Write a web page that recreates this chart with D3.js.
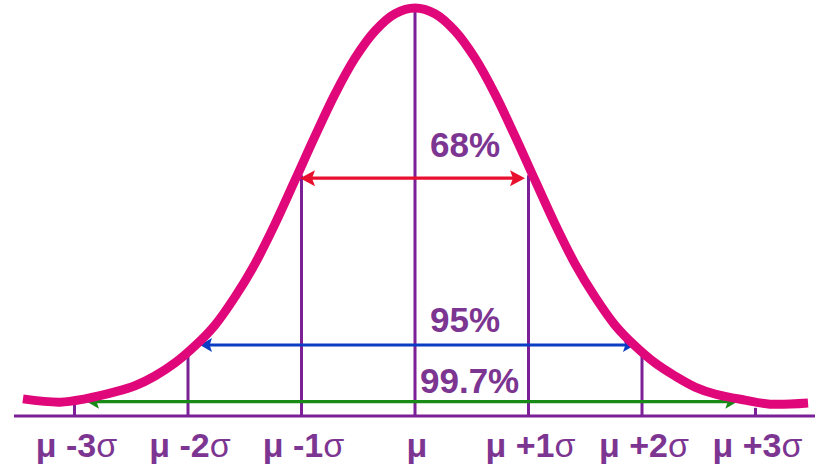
<!DOCTYPE html>
<html>
<head>
<meta charset="utf-8">
<script src="https://cdn.jsdelivr.net/npm/d3@7"></script>
<style>
  html, body { margin: 0; padding: 0; background: #ffffff; }
  svg { display: block; }
</style>
</head>
<body>
<script>
// ---- data (x in sigma units from the mean, y as fraction of peak height) ----
const curveZ = [-3.454, -3.128, -2.907, -2.643, -2.467, -2.291, -2.115, -1.938, -1.762, -1.586,
                -1.410, -1.233, -1.057, -0.881, -0.705, -0.529, -0.352, -0.176, 0,
                 0.176, 0.352, 0.529, 0.705, 0.881, 1.057, 1.233, 1.410, 1.586, 1.762,
                 1.938, 2.115, 2.291, 2.467, 2.643, 2.907, 3.128, 3.463];
const curveH = [0.042, 0.034, 0.042, 0.059, 0.074, 0.098, 0.130, 0.172, 0.223, 0.292,
                0.373, 0.471, 0.578, 0.686, 0.789, 0.877, 0.944, 0.986, 1.0,
                0.986, 0.944, 0.877, 0.789, 0.686, 0.578, 0.471, 0.373, 0.292, 0.223,
                0.172, 0.130, 0.098, 0.071, 0.054, 0.039, 0.029, 0.032];

const tickZ = [-3, -2, -1, 0, 1, 2, 3];
const tickTopH = [0.027, 0.150, 0.59, 1.0, 0.59, 0.16, 0.02];
const tickLabels = ["μ -3σ", "μ -2σ", "μ -1σ", "μ", "μ +1σ", "μ +2σ", "μ +3σ"];

const intervalLabels = ["68%", "95%", "99.7%"];
const intervalFrom = [-1.013, -1.894, -2.89];
const intervalTo = [0.969, 1.938, 2.84];
const intervalH = [0.583, 0.174, 0.035];

// ---- styles ----
const W = 829, H = 474;
const purpleLine = "#7b2096";
const purpleText = "#7d3592";
const curveColor = "#e0077a";
const arrowColors = ["#e8102e", "#0a3cc4", "#178a17"];
const arrowHead = [[15, 8], [12, 7], [12, 7]];
const labelDy = [-21, -13, -9];
const labelX = [430, 430, 420];
const labelSize = [35, 35, 35];

const x = d3.scaleLinear().domain([0, 1]).range([415, 528.5]);
const y = d3.scaleLinear().domain([0, 1]).range([416, 8]);

const svg = d3.select("body").append("svg").attr("width", W).attr("height", H);

// baseline
svg.append("line")
  .attr("x1", 14).attr("x2", 815)
  .attr("y1", y(0)).attr("y2", y(0))
  .attr("stroke", purpleLine).attr("stroke-width", 3);

// vertical sigma lines
svg.append("g").selectAll("line").data(tickZ).join("line")
  .attr("x1", d => x(d)).attr("x2", d => x(d))
  .attr("y1", y(0)).attr("y2", (d, i) => y(tickTopH[i]))
  .attr("stroke", purpleLine).attr("stroke-width", 3);

// interval arrows
intervalLabels.forEach((lab, i) => {
  const x1 = x(intervalFrom[i]), x2 = x(intervalTo[i]), yy = y(intervalH[i]);
  const [L, Hh] = arrowHead[i];
  svg.append("line")
    .attr("x1", x1 + L * 0.6).attr("x2", x2 - L * 0.6)
    .attr("y1", yy).attr("y2", yy)
    .attr("stroke", arrowColors[i]).attr("stroke-width", 3.2);
  const head = (tx, dir) => {
    const p = d3.path();
    p.moveTo(tx, yy);
    p.lineTo(tx + dir * L, yy - Hh);
    p.lineTo(tx + dir * L * 0.8, yy);
    p.lineTo(tx + dir * L, yy + Hh);
    p.closePath();
    return p.toString();
  };
  svg.append("path").attr("d", head(x1, 1)).attr("fill", arrowColors[i]);
  svg.append("path").attr("d", head(x2, -1)).attr("fill", arrowColors[i]);
});

// curve
const pts = curveZ.map((z, i) => [z, curveH[i]]);
svg.append("path")
  .datum(pts)
  .attr("d", d3.line().x(d => x(d[0])).y(d => y(d[1])).curve(d3.curveCatmullRom.alpha(0.5)))
  .attr("fill", "none")
  .attr("stroke", curveColor)
  .attr("stroke-width", 9);

// interval labels
svg.append("g").selectAll("text").data(intervalLabels).join("text")
  .attr("x", (d, i) => labelX[i])
  .attr("y", (d, i) => y(intervalH[i]) + labelDy[i])
  .attr("font-family", "'Liberation Sans', Arial, Helvetica, sans-serif")
  .attr("font-weight", "bold")
  .attr("font-size", (d, i) => labelSize[i])
  .attr("fill", purpleText)
  .text(d => d);

// axis labels
const lab = svg.append("g").selectAll("text").data(tickLabels).join("text")
  .attr("x", (d, i) => x(tickZ[i]) + 2)
  .attr("y", 457)
  .attr("text-anchor", "middle")
  .attr("font-family", "'Liberation Sans', Arial, Helvetica, sans-serif")
  .attr("font-weight", "bold")
  .attr("font-size", 34)
  .attr("fill", purpleText);
lab.each(function(d) {
  const t = d3.select(this);
  const hasSigma = d.endsWith("σ");
  t.append("tspan").text(hasSigma ? d.slice(0, -1) : d);
  if (hasSigma) t.append("tspan").attr("font-weight", "normal").text("σ");
});
</script>
</body>
</html>
